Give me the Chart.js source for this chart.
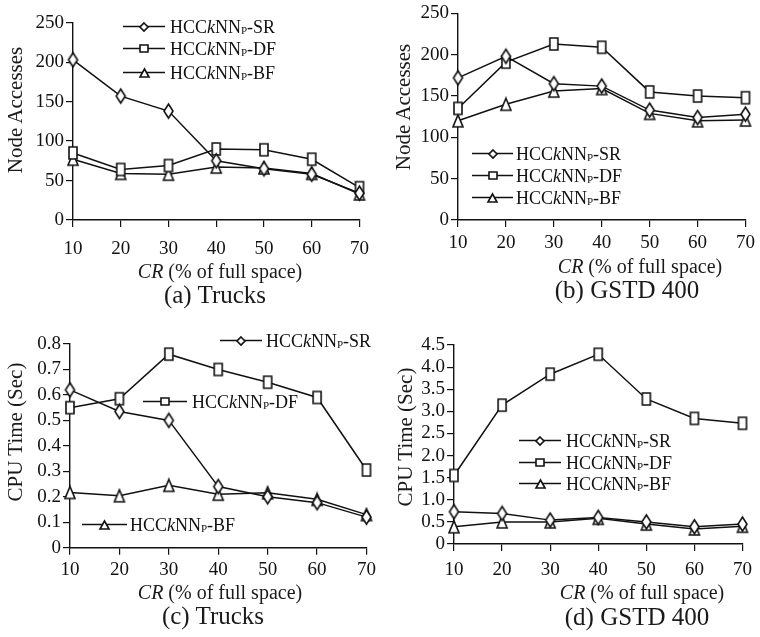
<!DOCTYPE html>
<html>
<head>
<meta charset="utf-8">
<script src="https://cdn.jsdelivr.net/npm/chart.js@4.4.0/dist/chart.umd.min.js"></script>
<style>
  body { margin: 0; background: #fff; width: 760px; height: 637px; position: relative; overflow: hidden;
         font-family: "Liberation Serif", serif; color: #1a1a1a; }
  canvas { position: absolute; }
  .t { position: absolute; white-space: nowrap; line-height: 1; transform: translate(-50%, -50%); }
  .yt { transform: translate(-50%, -50%) rotate(-90deg); font-size: 21px; }
  .xt { font-size: 20px; }
  .cap { font-size: 25px; }
</style>
</head>
<body>
<canvas id="chartA" width="380" height="262" style="left:0;top:0"></canvas>
<canvas id="chartB" width="380" height="262" style="left:380px;top:0"></canvas>
<canvas id="chartC" width="380" height="265" style="left:0;top:320px"></canvas>
<canvas id="chartD" width="380" height="265" style="left:380px;top:320px"></canvas>

<div class="t yt" style="left:15px;top:110px">Node Accesses</div>
<div class="t yt" style="left:403px;top:107px">Node Accesses</div>
<div class="t yt" style="left:15px;top:432px">CPU Time (Sec)</div>
<div class="t yt" style="left:405px;top:437px">CPU Time (Sec)</div>

<div class="t xt" style="left:220px;top:271px"><i>CR</i> (% of full space)</div>
<div class="t xt" style="left:640px;top:266px"><i>CR</i> (% of full space)</div>
<div class="t xt" style="left:220px;top:592px"><i>CR</i> (% of full space)</div>
<div class="t xt" style="left:642px;top:592px"><i>CR</i> (% of full space)</div>

<div class="t cap" style="left:215px;top:294px">(a) Trucks</div>
<div class="t cap" style="left:627px;top:289px">(b) GSTD 400</div>
<div class="t cap" style="left:213px;top:615px">(c) Trucks</div>
<div class="t cap" style="left:637px;top:616px">(d) GSTD 400</div>

<script>
// CR (% of full space)
const crValues = [10, 20, 30, 40, 50, 60, 70];
const methods = ['SR', 'DF', 'BF'];

// (a) Trucks, node accesses
const trucksNodeSR = [203, 157, 138, 75, 65, 58, 34];
const trucksNodeDF = [85, 64, 69, 90, 89, 77, 41];
const trucksNodeBF = [77, 59, 58, 67, 66, 59, 33];

// (b) GSTD 400, node accesses
const gstdNodeSR = [172, 198, 165, 162, 133, 124, 128];
const gstdNodeDF = [135, 191, 213, 209, 155, 150, 148];
const gstdNodeBF = [120, 140, 156, 159, 129, 120, 121];

// (c) Trucks, CPU time
const trucksCpuSR = [0.62, 0.535, 0.50, 0.24, 0.20, 0.177, 0.12];
const trucksCpuDF = [0.55, 0.585, 0.76, 0.70, 0.65, 0.59, 0.305];
const trucksCpuBF = [0.217, 0.204, 0.245, 0.21, 0.216, 0.19, 0.13];

// (d) GSTD 400, CPU time
const gstdCpuSR = [0.73, 0.69, 0.54, 0.60, 0.50, 0.39, 0.45];
const gstdCpuDF = [1.55, 3.14, 3.84, 4.29, 3.28, 2.84, 2.73];
const gstdCpuBF = [0.39, 0.50, 0.50, 0.58, 0.45, 0.34, 0.40];

const FONT = '"Liberation Serif", "Times New Roman", serif';
const INK = '#111';

// marker images (taller than wide, like the printed figure)
function makeMarker(kind, w, h) {
    const c = document.createElement('canvas');
    c.width = w + 4; c.height = h + 4;
    const g = c.getContext('2d');
    const cx = c.width / 2, cy = c.height / 2;
    g.beginPath();
    if (kind === 'SR') {
        g.moveTo(cx, cy - h / 2); g.lineTo(cx + w / 2, cy); g.lineTo(cx, cy + h / 2); g.lineTo(cx - w / 2, cy);
    } else if (kind === 'DF') {
        g.rect(cx - w / 2, cy - h / 2, w, h);
    } else {
        g.moveTo(cx, cy - h / 2); g.lineTo(cx + w / 2, cy + h / 2); g.lineTo(cx - w / 2, cy + h / 2);
    }
    g.closePath();
    g.fillStyle = '#fff'; g.fill();
    g.lineWidth = 1.6; g.strokeStyle = INK; g.stroke();
    return c;
}
const plotMarks = { SR: makeMarker('SR', 9, 14), DF: makeMarker('DF', 8, 12), BF: makeMarker('BF', 10, 12) };
const legendMarks = { SR: makeMarker('SR', 8, 8), DF: makeMarker('DF', 8, 7), BF: makeMarker('BF', 9, 8) };

function drawLegendLabel(ctx, x, y, suffix) {
    const parts = [['HCC', 'n'], ['k', 'i'], ['NN', 'n'], ['P', 's'], ['-' + suffix, 'n']];
    ctx.textBaseline = 'alphabetic';
    ctx.textAlign = 'left';
    ctx.fillStyle = INK;
    let cx = x;
    const base = y + 6;
    for (const [t, s] of parts) {
        ctx.font = s === 'i' ? 'italic 18px ' + FONT : (s === 's' ? '11px ' + FONT : '18px ' + FONT);
        ctx.fillText(t, cx, s === 's' ? base + 1 : base);
        cx += ctx.measureText(t).width;
    }
}

const legendPlugin = {
    id: 'richLegend',
    afterDraw(chart, args, opts) {
        const ctx = chart.ctx;
        ctx.save();
        opts.items.forEach((it, i) => {
            const x1 = it.x1 - opts.ox, x2 = it.x2 - opts.ox, y = Math.round(it.y - opts.oy) + 0.5;
            ctx.strokeStyle = INK; ctx.lineWidth = 1.4;
            ctx.beginPath(); ctx.moveTo(x1, y); ctx.lineTo(x2, y); ctx.stroke();
            const m = legendMarks[methods[i]];
            ctx.drawImage(m, Math.round((x1 + x2) / 2 - m.width / 2), Math.round(y - m.height / 2));
            drawLegendLabel(ctx, it.tx - opts.ox, y, methods[i]);
        });
        ctx.restore();
    }
};

function makeChart(id, cfg) {
    const canvas = document.getElementById(id);
    const H = canvas.height, W = canvas.width;
    const [L, T, R, B] = cfg.area;
    const datasets = cfg.series.map((vals, i) => ({
        label: 'HCCkNNP-' + methods[i],
        data: vals,
        borderColor: INK,
        borderWidth: 1.5,
        tension: 0,
        pointStyle: plotMarks[methods[i]],
        pointRadius: 6,
        fill: false
    }));
    const tickFont = { family: FONT, size: 19 };
    return new Chart(canvas.getContext('2d'), {
        type: 'line',
        data: { labels: crValues, datasets: datasets },
        plugins: [legendPlugin],
        options: {
            responsive: false,
            animation: false,
            layout: { padding: { left: 0, top: T, right: W - R, bottom: 0 } },
            plugins: {
                legend: { display: false },
                tooltip: { enabled: false },
                richLegend: { items: cfg.legend, ox: cfg.ox, oy: cfg.oy }
            },
            scales: {
                x: {
                    offset: false,
                    afterFit(s) { s.height = H - B; },
                    grid: { drawOnChartArea: false, drawTicks: true, tickLength: 7, color: INK, lineWidth: 1.2 },
                    border: { color: INK, width: 1.4 },
                    ticks: { color: INK, font: tickFont, padding: cfg.xPad, maxRotation: 0, autoSkip: false }
                },
                y: {
                    min: 0, max: cfg.ymax,
                    afterFit(s) { s.width = L; },
                    grid: { drawOnChartArea: false, drawTicks: true, tickLength: 7, color: INK, lineWidth: 1.2 },
                    border: { color: INK, width: 1.4 },
                    ticks: {
                        stepSize: cfg.step, color: INK, font: tickFont, padding: 2, autoSkip: false,
                        callback: v => cfg.decimals ? (v === 0 ? '0' : v.toFixed(1)) : v
                    }
                }
            }
        }
    });
}

makeChart('chartA', {
    ox: 0, oy: 0, area: [73, 22.7, 365, 220], ymax: 250, step: 50, xPad: 11,
    series: [trucksNodeSR, trucksNodeDF, trucksNodeBF],
    legend: [
        { x1: 123, x2: 165, tx: 170, y: 25.5 },
        { x1: 123, x2: 165, tx: 170, y: 48 },
        { x1: 123, x2: 165, tx: 170, y: 71.5 }
    ]
});
makeChart('chartB', {
    ox: 380, oy: 0, area: [78, 13.3, 367, 220], ymax: 250, step: 50, xPad: 5,
    series: [gstdNodeSR, gstdNodeDF, gstdNodeBF],
    legend: [
        { x1: 472, x2: 513, tx: 516, y: 153 },
        { x1: 472, x2: 513, tx: 516, y: 175 },
        { x1: 472, x2: 513, tx: 516, y: 197 }
    ]
});
makeChart('chartC', {
    ox: 0, oy: 320, area: [70, 24, 366.7, 227.7], ymax: 0.8, step: 0.1, decimals: true, xPad: 4,
    series: [trucksCpuSR, trucksCpuDF, trucksCpuBF],
    legend: [
        { x1: 220, x2: 262, tx: 266, y: 340 },
        { x1: 143, x2: 187, tx: 192, y: 401 },
        { x1: 82, x2: 127, tx: 130, y: 524 }
    ]
});
makeChart('chartD', {
    ox: 380, oy: 320, area: [74, 25, 369, 224], ymax: 4.5, step: 0.5, decimals: true, xPad: 8,
    series: [gstdCpuSR, gstdCpuDF, gstdCpuBF],
    legend: [
        { x1: 519, x2: 561, tx: 566, y: 440 },
        { x1: 519, x2: 561, tx: 566, y: 462 },
        { x1: 519, x2: 561, tx: 566, y: 483 }
    ]
});
</script>
</body>
</html>
